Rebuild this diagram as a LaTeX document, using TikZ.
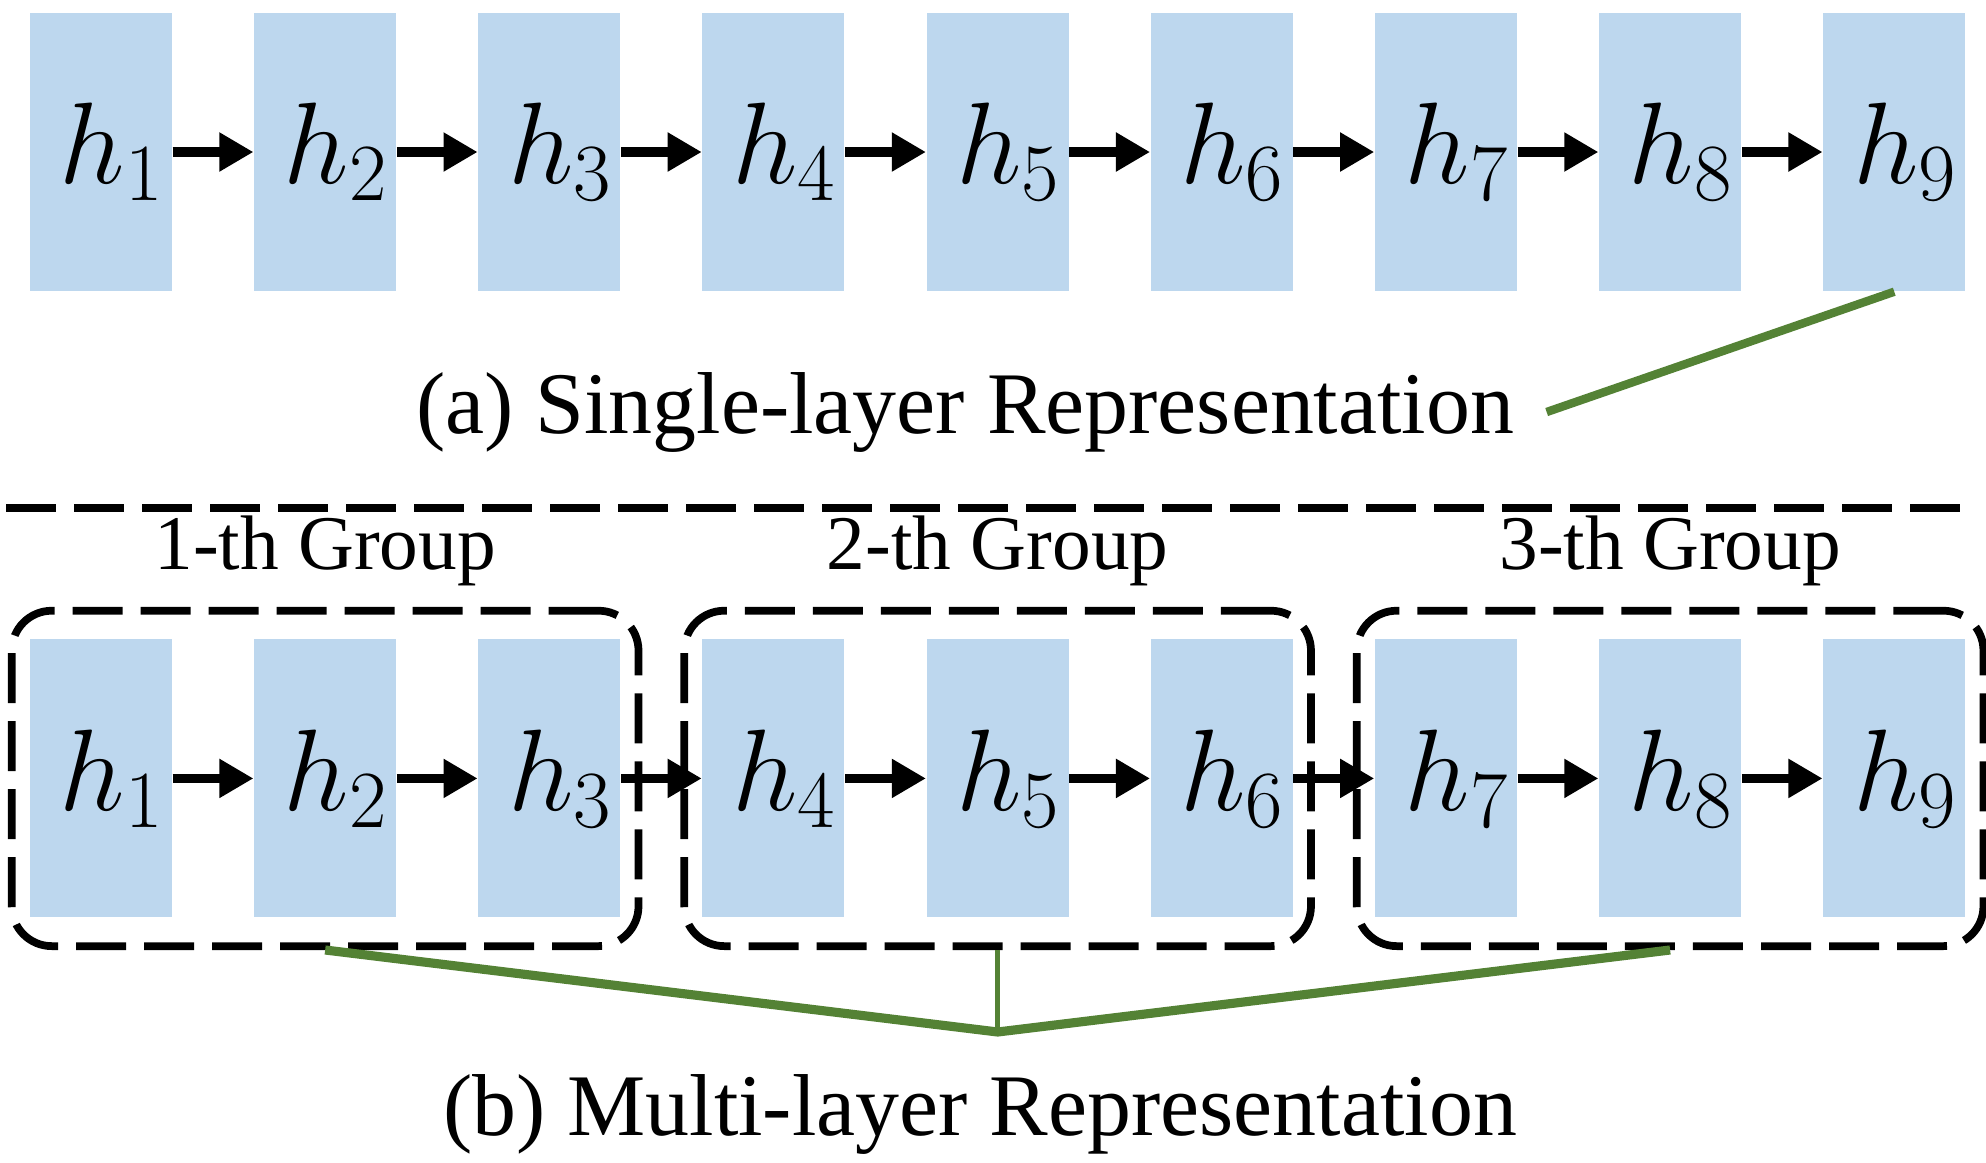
\RequirePackage{fix-cm}
\documentclass[tikz,border=0pt]{standalone}
\usepackage{amsmath}
\usepackage{fontspec}
\setmainfont{LiberationSerif}[Extension=.ttf, UprightFont=*-Regular, BoldFont=*-Bold, ItalicFont=*-Italic]
\usepackage{xcolor}
\usepackage{tikz}
\usetikzlibrary{arrows.meta,positioning,fit}

\definecolor{hblue}{HTML}{BDD7EE}
\definecolor{lgreen}{HTML}{548235}

\begin{document}
\begin{tikzpicture}[>={Triangle[length=9.7pt,width=10.5pt]},
			node distance=8.075mm,
			hbox/.style = {fill=hblue, minimum width=14.2mm, minimum height=27.8mm, inner sep=0pt,
				font=\fontsize{33}{36}\selectfont, execute at begin node=\kern2.2mm},
			arr/.style = {->, line width=2.8pt},
			group/.style = {draw, line width=2.2pt, dash pattern=on 5mm off 1.8mm, rounded corners=4mm,
				inner xsep=1.75mm, inner ysep=2.8mm},
			sep/.style = {draw, line width=2.5pt, dash pattern=on 5mm off 1.8mm},
			glabel/.style = {inner sep=0pt, font=\fontsize{22}{26}\selectfont},
			caption/.style = {inner sep=0pt, anchor=base, font=\fontsize{25}{30}\selectfont},
			glink/.style = {draw=lgreen, line width=2.4pt}
			]
			\useasboundingbox (0,0) rectangle (198.6mm,-116.2mm);
			% (a) single layer
			\node [hbox] (s1) at (10.1mm,-15.2mm) {$h_{1}$};
			\node [hbox, right=of s1] (s2) {$h_{2}$};
			\node [hbox, right=of s2] (s3) {$h_{3}$};
			\node [hbox, right=of s3] (s4) {$h_{4}$};
			\node [hbox, right=of s4] (s5) {$h_{5}$};
			\node [hbox, right=of s5] (s6) {$h_{6}$};
			\node [hbox, right=of s6] (s7) {$h_{7}$};
			\node [hbox, right=of s7] (s8) {$h_{8}$};
			\node [hbox, right=of s8] (s9) {$h_{9}$};
			\draw[arr] (s1) -- (s2);
			\draw[arr] (s2) -- (s3);
			\draw[arr] (s3) -- (s4);
			\draw[arr] (s4) -- (s5);
			\draw[arr] (s5) -- (s6);
			\draw[arr] (s6) -- (s7);
			\draw[arr] (s7) -- (s8);
			\draw[arr] (s8) -- (s9);
			\node [caption] (capA) at (96.5mm,-43.3mm) {(a) Single-layer Representation};
			\draw[glink] (s9.south) -- ([xshift=3.2mm]capA.east);
			\draw[sep] (0.6mm,-50.8mm) -- (196.4mm,-50.8mm);
			% (b) multi layer
			\node [hbox, below=34.7mm of s1] (m1) {$h_{1}$};
			\node [hbox, right=of m1] (m2) {$h_{2}$};
			\node [hbox, right=of m2] (m3) {$h_{3}$};
			\node [hbox, right=of m3] (m4) {$h_{4}$};
			\node [hbox, right=of m4] (m5) {$h_{5}$};
			\node [hbox, right=of m5] (m6) {$h_{6}$};
			\node [hbox, right=of m6] (m7) {$h_{7}$};
			\node [hbox, right=of m7] (m8) {$h_{8}$};
			\node [hbox, right=of m8] (m9) {$h_{9}$};
			\node [group, fit=(m1)(m3)] (g1) {};
			\node [group, fit=(m4)(m6)] (g2) {};
			\node [group, fit=(m7)(m9)] (g3) {};
			\node [glabel, above=2mm of g1] (l1) {1-th Group};
			\node [glabel, above=2mm of g2] (l2) {2-th Group};
			\node [glabel, above=2mm of g3] (l3) {3-th Group};
			\draw[arr] (m1) -- (m2);
			\draw[arr] (m2) -- (m3);
			\draw[arr] (m3) -- (m4);
			\draw[arr] (m4) -- (m5);
			\draw[arr] (m5) -- (m6);
			\draw[arr] (m6) -- (m7);
			\draw[arr] (m7) -- (m8);
			\draw[arr] (m8) -- (m9);
			\coordinate [below=8.2mm of g2.south] (join);
			\draw[glink, line width=2.6pt] (g1.south) -- (join) -- (g3.south);
			\draw[glink, line width=1.6pt] (g2.south) -- (join);
			\node [caption] (capB) at (98mm,-113.5mm) {(b) Multi-layer Representation};
		\end{tikzpicture}
\end{document}
